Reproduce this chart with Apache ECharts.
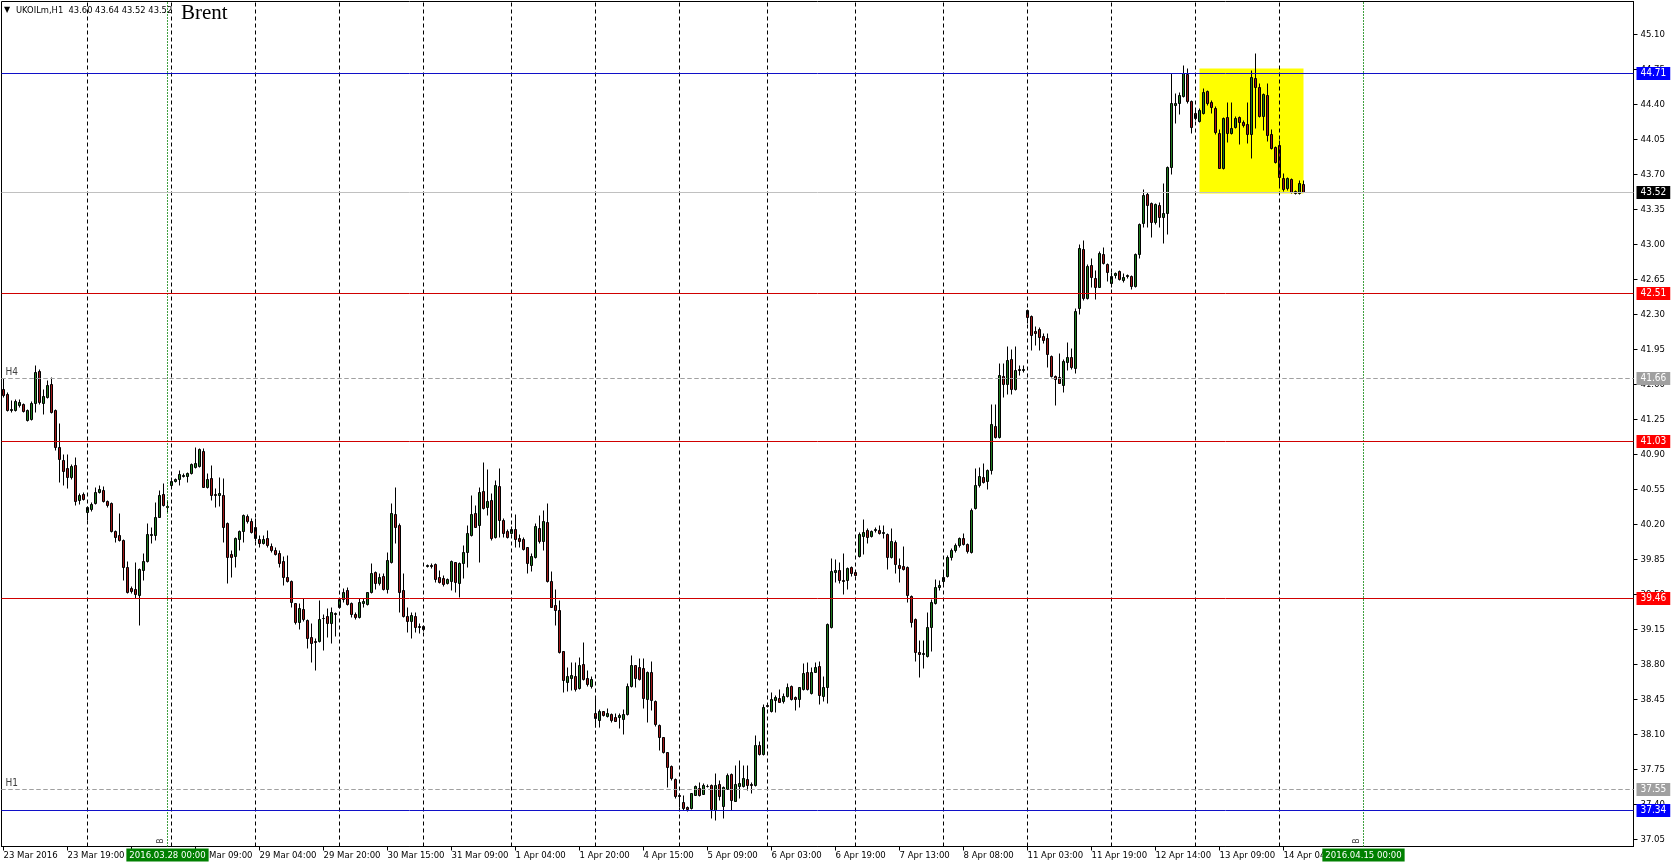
<!DOCTYPE html>
<html>
<head>
<meta charset="utf-8">
<script src="https://cdn.jsdelivr.net/npm/echarts@6/dist/echarts.min.js"></script>
<style>html,body{margin:0;padding:0;background:#fff;}#c{width:1675px;height:867px;}</style>
</head>
<body>
<div id="c"></div>
<script>
// ---- data (UKOILm, H1) ----
const openP = [
41.55,41.50,41.34,41.34,41.39,41.40,41.24,41.25,41.41,41.73,
41.41,41.47,41.60,41.34,40.97,40.84,40.76,40.67,40.79,40.44,
40.50,40.32,40.35,40.41,40.52,40.54,40.43,40.41,40.13,40.09,
40.04,39.77,39.56,39.55,39.49,39.74,39.83,40.09,40.09,40.27,
40.50,40.38,40.59,40.63,40.65,40.68,40.68,40.71,40.77,40.78,
40.93,40.57,40.66,40.50,40.49,40.49,40.21,39.90,39.88,40.05,
40.13,40.28,40.23,40.17,40.05,40.01,40.06,39.98,39.94,39.91,
39.83,39.67,39.63,39.41,39.22,39.35,39.24,39.07,39.03,39.03,
39.26,39.28,39.21,39.30,39.37,39.45,39.54,39.41,39.30,39.27,
39.41,39.40,39.52,39.72,39.61,39.68,39.55,39.82,40.30,40.19,
39.54,39.28,39.23,39.28,39.18,39.18,39.78,39.79,39.80,39.67,
39.66,39.61,39.63,39.82,39.61,39.81,39.92,40.09,40.31,40.19,
40.53,40.37,40.44,40.07,40.58,40.24,40.13,40.11,40.15,40.06,
40.05,39.97,39.79,39.87,40.16,40.03,40.22,39.63,39.39,39.34,
38.93,38.62,38.66,38.68,38.56,38.80,38.66,38.58,38.31,38.24,
38.33,38.28,38.30,38.27,38.27,38.25,38.30,38.58,38.79,38.77,
38.76,38.45,38.72,38.43,38.19,38.07,37.92,37.78,37.65,37.49,
37.42,37.37,37.36,37.49,37.56,37.50,37.58,37.59,37.34,37.60,
37.38,37.55,37.70,37.43,37.58,37.58,37.65,37.60,37.59,37.99,
37.90,38.39,38.33,38.44,38.46,38.43,38.48,38.58,38.47,38.45,
38.55,38.72,38.51,38.72,38.78,38.48,38.57,39.17,39.72,39.74,
39.64,39.64,39.77,39.72,39.88,40.08,40.14,40.08,40.14,40.14,
40.11,40.10,39.87,40.02,39.79,39.78,39.77,39.48,39.25,38.92,
38.90,38.88,39.17,39.41,39.57,39.63,39.68,39.87,39.94,39.99,
40.06,40.00,39.92,40.36,40.59,40.67,40.63,40.74,41.18,41.07,
41.68,41.60,41.85,41.55,41.75,41.74,42.34,42.28,42.13,42.15,
42.08,42.06,41.88,41.68,41.67,41.59,41.82,41.87,41.76,42.36,
42.95,42.46,42.79,42.66,42.57,42.90,42.80,42.61,42.69,42.73,
42.64,42.68,42.68,42.58,42.90,43.21,43.50,43.41,43.22,43.39,
43.27,43.31,43.77,44.39,44.41,44.48,44.70,44.43,44.31,44.23,
44.31,44.53,44.42,44.36,44.11,43.76,44.27,44.11,44.17,44.27,
44.22,44.20,44.10,44.66,44.57,44.28,44.49,44.10,43.97,43.99,
43.66,43.56,43.65,43.53,43.51,43.60
];
const highP = [
41.66,41.52,41.44,41.45,41.45,41.41,41.35,41.43,41.79,41.75,
41.55,41.64,41.67,41.35,41.21,40.90,40.90,40.80,40.87,40.51,
40.52,40.38,40.42,40.57,40.59,40.58,40.44,40.42,40.14,40.31,
40.05,39.83,39.58,39.82,39.76,39.91,40.21,40.17,40.42,40.54,
40.61,40.44,40.67,40.66,40.74,40.71,40.72,40.81,40.97,40.96,
40.96,40.71,40.79,40.56,40.67,40.66,40.22,39.94,40.07,40.14,
40.30,40.30,40.26,40.26,40.09,40.09,40.14,40.01,39.97,39.94,
39.88,39.89,39.64,39.41,39.41,39.46,39.25,39.21,39.06,39.44,
39.30,39.36,39.37,39.32,39.46,39.56,39.57,39.42,39.32,39.46,
39.46,39.52,39.81,39.73,39.71,39.71,39.92,40.41,40.57,40.21,
39.71,39.37,39.32,39.32,39.21,39.19,39.80,39.81,39.81,39.74,
39.69,39.66,39.84,39.82,39.82,39.99,40.19,40.49,40.39,40.57,
40.82,40.75,40.51,40.64,40.76,40.26,40.15,40.18,40.30,40.10,
40.07,39.97,39.91,40.21,40.29,40.34,40.41,39.73,39.55,39.44,
38.93,38.77,38.82,38.82,38.87,39.02,38.74,38.68,38.47,38.35,
38.33,38.36,38.31,38.31,38.31,38.35,38.61,38.89,38.79,38.86,
38.86,38.73,38.83,38.44,38.20,38.07,37.92,37.79,37.66,37.51,
37.49,37.38,37.51,37.59,37.62,37.61,37.60,37.60,37.71,37.64,
37.58,37.71,37.71,37.79,37.84,37.79,37.79,37.62,38.09,38.03,
38.40,38.40,38.52,38.49,38.55,38.51,38.61,38.59,38.48,38.57,
38.81,38.82,38.77,38.82,38.83,38.68,39.21,39.86,39.85,39.82,
39.91,39.77,39.78,39.73,40.12,40.25,40.16,40.14,40.17,40.19,
40.19,40.11,40.16,40.04,39.86,39.98,39.78,39.49,39.26,39.04,
39.04,39.32,39.45,39.65,39.64,39.74,39.89,39.96,40.01,40.07,
40.11,40.01,40.36,40.76,40.77,40.81,40.75,41.40,41.40,41.81,
41.81,41.98,41.95,41.98,41.79,41.79,42.35,42.29,42.18,42.17,
42.11,42.11,41.89,41.69,41.91,41.85,42.02,41.96,42.36,43.00,
43.04,42.80,42.86,42.74,42.93,42.97,42.81,42.72,42.72,42.74,
42.71,42.70,42.69,42.91,43.21,43.55,43.52,43.42,43.41,43.42,
43.61,43.78,44.71,44.51,44.52,44.79,44.76,44.44,44.34,44.36,
44.56,44.54,44.44,44.38,44.15,44.27,44.42,44.42,44.28,44.28,
44.24,44.42,44.74,44.91,44.61,44.51,44.61,44.15,43.98,44.04,
43.71,43.67,43.66,43.54,43.64,43.64
];
const lowP = [
41.47,41.33,41.32,41.33,41.37,41.32,41.23,41.24,41.32,41.40,
41.30,41.46,41.31,40.94,40.62,40.59,40.56,40.65,40.39,40.40,
40.44,40.24,40.33,40.40,40.51,40.42,40.37,40.12,40.02,40.03,
39.64,39.51,39.51,39.46,39.19,39.64,39.82,40.01,40.04,40.27,
40.38,40.32,40.57,40.62,40.59,40.67,40.62,40.70,40.76,40.77,
40.57,40.56,40.44,40.37,40.38,40.02,39.61,39.67,39.77,39.94,
40.02,40.21,40.11,40.03,39.97,40.00,39.97,39.92,39.89,39.77,
39.59,39.62,39.37,39.20,39.15,39.23,38.96,38.82,38.74,39.02,
38.94,39.07,39.01,39.08,39.36,39.42,39.39,39.27,39.25,39.26,
39.37,39.39,39.51,39.55,39.59,39.54,39.51,39.81,40.01,39.32,
39.27,39.12,39.06,39.12,39.11,39.13,39.77,39.76,39.62,39.61,
39.58,39.60,39.54,39.52,39.47,39.66,39.77,40.08,40.17,39.82,
40.35,40.29,40.04,40.06,40.07,40.07,40.06,40.10,39.97,39.97,
39.94,39.71,39.73,39.86,40.01,39.94,39.62,39.37,39.19,38.91,
38.52,38.53,38.54,38.53,38.55,38.64,38.58,38.56,38.17,38.17,
38.28,38.27,38.22,38.23,38.16,38.10,38.29,38.57,38.57,38.64,
38.36,38.22,38.34,38.18,37.94,37.91,37.57,37.64,37.46,37.37,
37.34,37.33,37.35,37.49,37.48,37.50,37.57,37.26,37.24,37.44,
37.26,37.55,37.34,37.43,37.46,37.57,37.54,37.51,37.58,37.89,
37.89,38.37,38.32,38.32,38.42,38.41,38.47,38.44,38.34,38.37,
38.54,38.54,38.50,38.72,38.40,38.43,38.41,39.16,39.62,39.61,
39.50,39.55,39.68,39.68,39.87,39.90,40.01,40.07,40.12,40.10,
40.06,39.75,39.86,39.71,39.62,39.74,39.42,39.17,38.83,38.67,
38.76,38.87,38.93,39.40,39.54,39.58,39.67,39.84,39.92,39.97,
39.99,39.91,39.91,40.35,40.57,40.61,40.55,40.70,41.06,41.06,
41.47,41.50,41.50,41.54,41.69,41.72,42.21,41.94,41.99,41.94,
42.01,41.77,41.67,41.39,41.61,41.52,41.74,41.75,41.71,42.30,
42.44,42.45,42.57,42.45,42.57,42.80,42.63,42.57,42.66,42.64,
42.62,42.66,42.55,42.57,42.86,43.17,43.17,43.07,43.20,43.17,
43.01,43.10,43.70,44.21,44.30,44.47,44.41,44.11,44.24,44.22,
44.30,44.39,44.31,44.10,43.76,43.75,44.02,44.10,44.16,44.00,
44.17,44.01,43.86,44.16,44.27,44.14,44.03,43.95,43.81,43.57,
43.53,43.54,43.51,43.50,43.50,43.52
];
const closeP = [
41.49,41.34,41.35,41.43,41.42,41.33,41.34,41.41,41.72,41.42,
41.48,41.59,41.32,40.97,40.85,40.73,40.67,40.78,40.43,40.49,
40.45,40.37,40.40,40.52,40.55,40.43,40.39,40.13,40.07,40.04,
39.77,39.52,39.53,39.50,39.75,39.83,40.10,40.10,40.27,40.49,
40.39,40.37,40.63,40.65,40.70,40.69,40.71,40.80,40.81,40.95,
40.57,40.65,40.49,40.49,40.51,40.17,39.87,39.87,40.06,40.13,
40.29,40.23,40.12,40.06,40.01,40.05,39.99,39.94,39.90,39.81,
39.67,39.63,39.42,39.22,39.36,39.25,39.06,39.01,39.02,39.25,
39.26,39.21,39.32,39.31,39.45,39.52,39.40,39.30,39.27,39.42,
39.43,39.52,39.71,39.61,39.67,39.55,39.84,40.31,40.17,39.52,
39.28,39.23,39.29,39.17,39.17,39.15,39.79,39.78,39.65,39.62,
39.60,39.65,39.83,39.62,39.81,39.92,40.11,40.30,40.17,40.52,
40.36,40.43,40.06,40.59,40.24,40.11,40.07,40.15,40.05,40.03,
39.95,39.81,39.88,40.18,40.03,40.23,39.63,39.37,39.34,38.92,
38.64,38.68,38.69,38.55,38.79,38.65,38.60,38.65,38.26,38.33,
38.29,38.31,38.24,38.23,38.29,38.30,38.58,38.79,38.66,38.65,
38.46,38.72,38.44,38.20,38.07,37.92,37.77,37.66,37.48,37.48,
37.36,37.35,37.51,37.58,37.49,37.59,37.58,37.35,37.59,37.48,
37.57,37.69,37.44,37.60,37.61,37.66,37.59,37.59,37.99,37.90,
38.37,38.38,38.45,38.47,38.42,38.48,38.57,38.45,38.45,38.57,
38.71,38.55,38.72,38.77,38.49,38.57,39.20,39.73,39.74,39.64,
39.63,39.76,39.71,39.69,40.10,40.12,40.07,40.13,40.15,40.11,
40.12,39.87,40.03,39.80,39.76,39.75,39.49,39.22,38.92,38.90,
38.91,39.17,39.42,39.57,39.59,39.67,39.87,39.94,39.99,40.06,
40.00,39.93,40.34,40.59,40.68,40.62,40.74,41.20,41.07,41.69,
41.60,41.84,41.55,41.74,41.74,41.75,42.27,42.09,42.11,42.07,
42.04,41.90,41.68,41.65,41.61,41.83,41.87,41.77,42.33,42.96,
42.46,42.78,42.67,42.57,42.91,42.81,42.72,42.68,42.71,42.65,
42.67,42.69,42.58,42.90,43.20,43.49,43.39,43.22,43.40,43.27,
43.31,43.77,44.41,44.41,44.49,44.71,44.43,44.17,44.26,44.34,
44.52,44.41,44.37,44.12,43.76,44.26,44.11,44.16,44.26,44.22,
44.19,44.10,44.67,44.57,44.28,44.50,44.09,43.96,43.82,43.67,
43.55,43.66,43.52,43.51,43.61,43.52
];
// time-scale labels, one every 16 bars
const timeLabels = [
"23 Mar 2016","23 Mar 19:00","24 Mar 14:00","28 Mar 09:00","29 Mar 04:00",
"29 Mar 20:00","30 Mar 15:00","31 Mar 09:00","1 Apr 04:00","1 Apr 20:00",
"4 Apr 15:00","5 Apr 09:00","6 Apr 03:00","6 Apr 19:00","7 Apr 13:00",
"8 Apr 08:00","11 Apr 03:00","11 Apr 19:00","12 Apr 14:00","13 Apr 09:00",
"14 Apr 04:00"
];
const labelStep = 16;
// price-scale tick labels
const priceTicks = [37.05,37.40,37.75,38.10,38.45,38.80,39.15,39.50,39.85,40.20,40.55,40.90,
  41.25,41.60,41.95,42.30,42.65,43.00,43.35,43.70,44.05,44.40,44.75,45.10];
// day separators (bar index)
const daySepBars = [21,42,63,84,105,127,148,169,191,213,235,256,277,298,319];
// horizontal levels
const blueLevels = [44.71, 37.34];
const redLevels = [42.51, 41.03, 39.46];
const grayLevels = [41.66, 37.55];
const grayLevelNames = ["H4", "H1"];
const bidLevel = 43.52;
// vertical line objects
const vLineBars = [41, 340];
const vLineNames = ["2016.03.28 00:00", "2016.04.15 00:00"];
// yellow rectangle (bar index / price)
const rectBars = [299, 325];
const rectPrices = [44.76, 43.51];
const symbolName = "UKOILm,H1";

// ---- chart ----
const NBARS = 408;
const cats = Array.from({length: NBARS}, (_, i) => String(i));
const candles = openP.map((o, i) => [o, closeP[i], lowP[i], highP[i]]);
const last = openP.length - 1;
const FONT = '"DejaVu Sans Condensed","DejaVu Sans",sans-serif';

const chart = echarts.init(document.getElementById('c'), null, {renderer: 'canvas'});

function levelLine(v, lineColor, boxColor, type) {
  return {
    yAxis: v,
    lineStyle: {color: lineColor, width: 1, type: type || 'solid'},
    label: {
      show: true, position: 'end', distance: 3,
      formatter: v.toFixed(2), color: '#fff', backgroundColor: boxColor,
      padding: [2, 4, 1, 4], fontSize: 10, fontFamily: FONT
    }
  };
}

const markLines = [];
daySepBars.forEach(b => markLines.push({
  xAxis: b, lineStyle: {color: '#000', width: 1, type: [4, 3]}, label: {show: false}
}));
vLineBars.forEach((b, k) => {
  markLines.push({
    xAxis: b, lineStyle: {color: '#008000', width: 1, type: [1, 2]},
    label: {show: true, position: 'start', distance: 2, formatter: vLineNames[k],
      color: '#fff', backgroundColor: '#008000', padding: [2, 3, 1, 3], fontSize: 9.5, fontFamily: FONT}
  });
  markLines.push({
    xAxis: b, lineStyle: {color: '#008000', width: 1, type: [1, 2]},
    label: {show: true, position: 'insideStartTop', distance: 3, formatter: 'B',
      color: '#333', fontSize: 8, fontFamily: FONT}
  });
});
grayLevels.forEach((v, k) => {
  markLines.push(levelLine(v, '#A0A0A0', '#A0A0A0', [4, 3]));
  markLines.push({
    yAxis: v, lineStyle: {color: '#A0A0A0', width: 1, type: [4, 3]},
    label: {show: true, position: 'insideStartTop', distance: 1, formatter: grayLevelNames[k],
      color: '#404040', fontSize: 10, fontFamily: FONT, padding: [0, 0, 0, 3]}
  });
});
redLevels.forEach(v => markLines.push(levelLine(v, '#D00000', '#FF0000')));
markLines.push(levelLine(bidLevel, '#C0C0C0', '#000000'));
blueLevels.forEach(v => markLines.push(levelLine(v, '#1010C8', '#0000FF')));

const isLabelIdx = (i) => i % labelStep === 0 && (i / labelStep) < timeLabels.length;

chart.setOption({
  animation: false,
  backgroundColor: '#fff',
  grid: {left: 1.5, top: 1.5, right: 41.5, bottom: 20.5, show: true,
    borderColor: '#000', borderWidth: 1, backgroundColor: '#fff', containLabel: false},
  xAxis: {
    type: 'category', data: cats, boundaryGap: true,
    axisLine: {show: true, lineStyle: {color: '#000', width: 1}},
    axisTick: {show: true, alignWithLabel: true, interval: (i) => isLabelIdx(i), length: 4,
      lineStyle: {color: '#000'}},
    axisLabel: {
      interval: (i) => isLabelIdx(i),
      formatter: (v, i) => (timeLabels[i / labelStep] || ''),
      align: 'left', margin: 4, color: '#000', fontSize: 9.5, fontFamily: FONT
    },
    splitLine: {show: false}
  },
  yAxis: {
    type: 'value', position: 'right', min: 36.98, max: 45.43,
    axisLine: {show: true, lineStyle: {color: '#000', width: 1}},
    axisTick: {show: true, length: 4, customValues: priceTicks, lineStyle: {color: '#000'}},
    axisLabel: {customValues: priceTicks, formatter: (v) => Number(v).toFixed(2),
      margin: 7, color: '#000', fontSize: 9.5, fontFamily: FONT},
    splitLine: {show: false}
  },
  graphic: [
    {type: 'text', left: 4, top: 6, style: {text: '\u25BC', font: '8px "DejaVu Sans"', fill: '#000'}},
    {type: 'text', left: 16, top: 6, style: {
      text: symbolName + '  ' + [openP[last], highP[last], lowP[last], closeP[last]].map(x => x.toFixed(2)).join(' '),
      font: '9.3px ' + FONT, fill: '#000'}},
    {type: 'text', left: 181, top: 3, style: {text: 'Brent', font: '21px "Liberation Serif","Times New Roman",serif', fill: '#000'}}
  ],
  series: [
    {
      type: 'line', data: [], z: 1, silent: true, symbol: 'none',
      markArea: {
        silent: true,
        itemStyle: {color: '#FFFF00', opacity: 1},
        data: [[{xAxis: rectBars[0], yAxis: rectPrices[0]}, {xAxis: rectBars[1], yAxis: rectPrices[1]}]]
      }
    },
    {
      type: 'candlestick', data: candles, z: 3, barWidth: 2,
      itemStyle: {color: '#1E7B1E', color0: '#A01818', borderColor: '#000', borderColor0: '#000', borderWidth: 1},
      markLine: {silent: true, symbol: ['none', 'none'], animation: false, data: markLines}
    }
  ]
});
</script>
</body>
</html>
